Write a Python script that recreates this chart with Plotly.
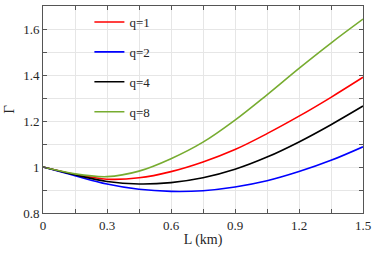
import plotly.graph_objects as go

L_km = [0, 0.15, 0.3, 0.45, 0.6, 0.75, 0.9, 1.05, 1.2, 1.35, 1.5]
gamma_q1 = [1.0, 0.968, 0.947, 0.953, 0.980, 1.022, 1.076, 1.145, 1.221, 1.303, 1.390]
gamma_q2 = [1.0, 0.962, 0.926, 0.903, 0.894, 0.897, 0.913, 0.940, 0.980, 1.029, 1.088]
gamma_q4 = [1.0, 0.966, 0.937, 0.926, 0.932, 0.953, 0.990, 1.043, 1.109, 1.184, 1.265]
gamma_q8 = [1.0, 0.970, 0.958, 0.982, 1.036, 1.108, 1.204, 1.314, 1.429, 1.539, 1.643]
series_names = ["q=1", "q=2", "q=4", "q=8"]
series_colors = ["#ff0000", "#0000ff", "#000000", "#77ac30"]
x_ticks = [0, 0.3, 0.6, 0.9, 1.2, 1.5]
x_tick_labels = ["0", "0.3", "0.6", "0.9", "1.2", "1.5"]
y_ticks = [0.8, 1.0, 1.2, 1.4, 1.6]
y_tick_labels = ["0.8", "1", "1.2", "1.4", "1.6"]

FONT = "Times New Roman, Liberation Serif, Tinos, serif"

fig = go.Figure()
for i, (name, ys, col) in enumerate(zip(series_names, [gamma_q1, gamma_q2, gamma_q4, gamma_q8], series_colors)):
    fig.add_trace(go.Scatter(x=L_km, y=ys, mode="lines", name=name, legendgroup=name,
                             line=dict(color=col, width=1.6, shape="spline", smoothing=1)))

axis_common = dict(showline=True, linecolor="#555555", linewidth=1, mirror="ticks",
                   ticks="inside", ticklen=4, tickcolor="#555555",
                   showgrid=True, gridcolor="#e6e6e6", gridwidth=1, zeroline=False,
                   automargin=False,
                   tickfont=dict(family=FONT, size=13, color="#262626"))

fig.update_xaxes(range=[0, 1.5], tickvals=x_ticks, ticktext=x_tick_labels,
                 minor=dict(dtick=0.15, showgrid=True, gridcolor="#e6e6e6", ticks="inside", ticklen=4, tickcolor="#555555"),
                 title=dict(text="L (km)", font=dict(family=FONT, size=14, color="#262626"), standoff=2),
                 **axis_common)
fig.update_yaxes(range=[0.8, 1.7], tickvals=y_ticks, ticktext=y_tick_labels,
                 minor=dict(dtick=0.1, showgrid=True, gridcolor="#e6e6e6", ticks="inside", ticklen=4, tickcolor="#555555"),
                 title=dict(text="Γ", font=dict(family=FONT, size=15, color="#262626"), standoff=4),
                 **axis_common)

fig.update_layout(width=374, height=255, margin=dict(l=43, r=11, t=6, b=42),
                  paper_bgcolor="white", plot_bgcolor="white",
                  font=dict(family=FONT),
                  legend=dict(x=0.145, y=0.995, xanchor="left", yanchor="top", bgcolor="rgba(0,0,0,0)",
                              font=dict(family=FONT, size=13, color="#262626"),
                              tracegroupgap=10, itemwidth=30),
                  showlegend=True)

fig.write_html("out.html", config={"displayModeBar": False},
               post_script="document.body.style.margin='0';document.body.style.padding='0';")
